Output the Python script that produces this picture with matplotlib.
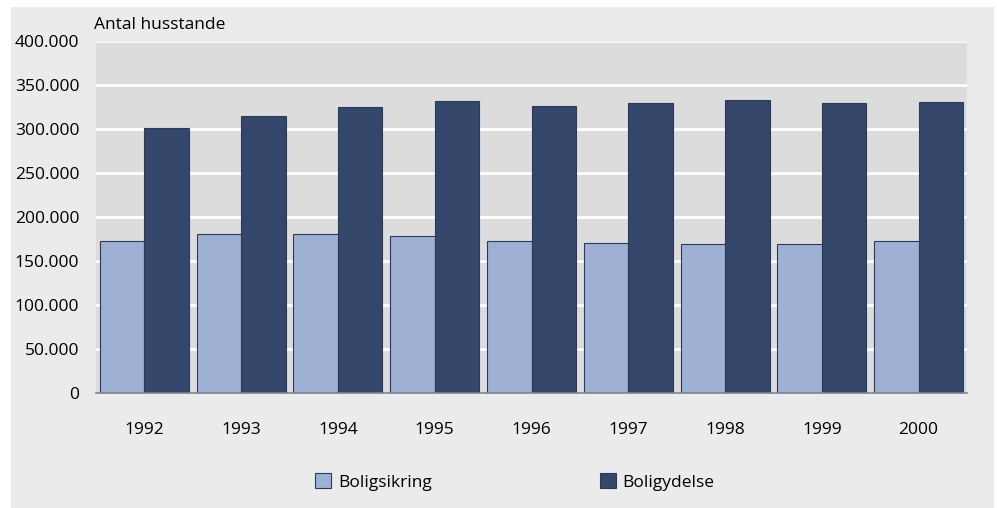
import matplotlib
matplotlib.use("Agg")
import matplotlib.pyplot as plt
import numpy as np
from matplotlib.patches import Rectangle
from matplotlib.ticker import FuncFormatter

years = ["1992", "1993", "1994", "1995", "1996", "1997", "1998", "1999", "2000"]
boligsikring = [173500, 181000, 181500, 179200, 173000, 171200, 169000, 169700, 173500]
boligydelse = [301500, 314800, 325000, 331800, 326900, 330300, 333700, 330300, 331000]
series_names = ["Boligsikring", "Boligydelse"]
y_ticks = [0, 50000, 100000, 150000, 200000, 250000, 300000, 350000, 400000]

light = "#9EB0D4"
dark = "#34466A"
edge = "#2B3A5C"

plt.rcParams['font.family'] = ['Open Sans', 'DejaVu Sans']

W, H = 997, 508
fig = plt.figure(figsize=(W / 100, H / 100), dpi=100, facecolor="white")
bg = Rectangle((11 / W, 0), (994 - 11) / W, (H - 7) / H,
               transform=fig.transFigure, facecolor="#EBEBEB",
               edgecolor="none", zorder=-10)
fig.patches.append(bg)

left, right, top, bottom = 96, 967, 41.5, 393
ax = fig.add_axes([left / W, 1 - bottom / H, (right - left) / W, (bottom - top) / H])
ax.set_facecolor("#DCDCDC")

x = np.arange(len(years))
bw = 0.46
ax.bar(x - bw / 2, boligsikring, bw, color=light, edgecolor=edge, linewidth=0.8,
       label=series_names[0], zorder=3)
ax.bar(x + bw / 2, boligydelse, bw, color=dark, edgecolor=edge, linewidth=0.8,
       label=series_names[1], zorder=3)

ax.set_xlim(-0.5, len(years) - 0.5)
ax.set_ylim(0, 400000)
ax.set_yticks(y_ticks)
ax.yaxis.set_major_formatter(FuncFormatter(lambda v, p: f"{int(v):,}".replace(",", ".")))
ax.grid(axis="y", color="white", linewidth=2.0, zorder=1)
ax.set_axisbelow(True)
ax.set_xticks(x)
ax.set_xticklabels(years)
for s in ["left", "right", "top"]:
    ax.spines[s].set_visible(False)
ax.spines["bottom"].set_color("#7A8394")
ax.spines["bottom"].set_linewidth(1.2)
ax.spines["bottom"].set_zorder(4)
ax.tick_params(axis="both", length=0, labelsize=12.5, colors="black")
ax.tick_params(axis="x", pad=21)
ax.tick_params(axis="y", pad=12)

fig.text(94 / W, 1 - 25 / H, "Antal husstande", fontsize=12.5, ha="left", va="center")

leg = fig.legend(loc="center", bbox_to_anchor=(515 / W, 1 - 482 / H), ncol=2,
                 frameon=False, fontsize=12.5, handlelength=0.9, handleheight=0.9,
                 handletextpad=0.4, columnspacing=9.7)

fig.savefig("out.png", dpi=100, facecolor="white")
